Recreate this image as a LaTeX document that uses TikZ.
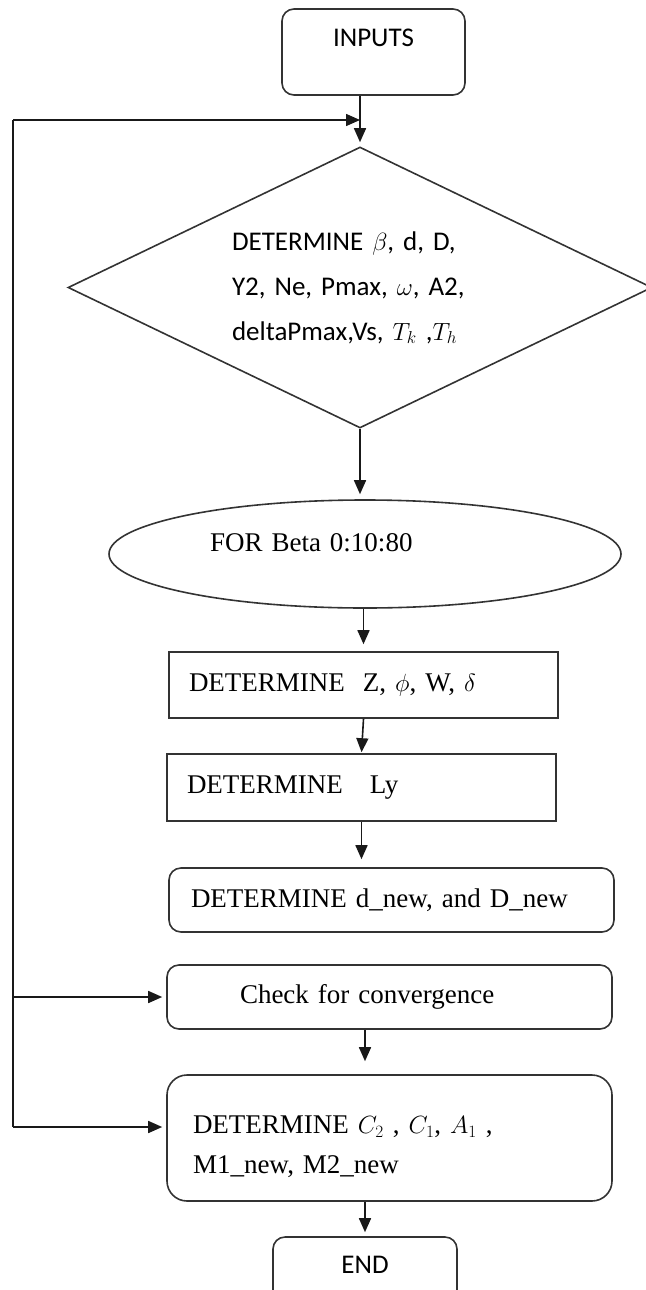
\documentclass[tikz,border=0pt]{standalone}
\usepackage{fontspec}
\setmainfont{Liberation Serif}
\newfontfamily\cfont{Carlito}
\usetikzlibrary{arrows.meta,positioning,shapes.geometric,calc}
\tikzset{
  blk/.style={draw=black!80, line width=1.6pt, inner ysep=0pt, font=\fontsize{27}{40}\selectfont},
  rbox/.style={blk, rounded corners=12pt},
  arr/.style={draw=black!90, line width=1.6pt, -{Triangle[length=14pt,width=12pt]}, shorten >=5pt},
  ln/.style={draw=black!90, line width=1.6pt}
}

\begin{document}
\begin{tikzpicture}[x=1pt, y=-1pt]
\useasboundingbox (0,0) rectangle (645,1290);
% boxes
\node[rbox, font=\cfont\fontsize{27}{32}\selectfont, minimum width=183pt, minimum height=86pt, text depth=28pt] (inp) at (373.5,52) {INPUTS};
\node[blk, diamond, aspect=2.08, inner sep=0pt, minimum width=584pt, minimum height=281pt, text width=256pt, align=left, font=\cfont\fontsize{27}{45}\selectfont] (dia) at (360,287.5)
  {DETERMINE $\beta$, d, D,\\ Y2, Ne, Pmax, $\omega$, A2,\\ deltaPmax,Vs, $T_k$ ,$T_h$};
\node[blk, ellipse, minimum width=512pt, minimum height=108pt, text width=310pt, align=left, text depth=22pt] (eli) at (365,554) {FOR Beta 0:10:80};
\node[blk, minimum width=389pt, minimum height=66pt, text width=349pt, inner xsep=20pt, align=left] (zpw) at (363.5,685) {DETERMINE\ \ Z, $\phi$, W, $\delta$};
\node[blk, minimum width=389pt, minimum height=67pt, text width=349pt, inner xsep=20pt, align=left] (ly) at (361.5,787.5) {DETERMINE\ \ \ Ly};
\node[rbox, minimum width=445pt, minimum height=64pt, text width=401pt, inner xsep=22pt, align=left] (dnw) at (391.5,900) {DETERMINE d\_new, and D\_new};
\node[rbox, minimum width=445pt, minimum height=64pt, text width=299pt, inner xsep=73pt, align=left] (cvg) at (389.5,997) {Check for\ convergence};
\node[rbox, rounded corners=20pt, minimum width=445pt, minimum height=126pt, text width=393pt, inner xsep=26pt, align=left, text depth=26pt] (cmn) at (389.5,1138)
  {DETERMINE $C_2$ , $C_1$, $A_1$ ,\\ M1\_new, M2\_new};
\node[rbox, font=\cfont\fontsize{27}{32}\selectfont, minimum width=184pt, minimum height=90pt, text depth=34pt] (fin) at (365,1282) {END};

% main flow
\draw[arr, shorten >=4pt] (inp.south -| dia.north) -- (dia.north);
\draw[arr] (dia.south) -- (dia.south |- eli.north);
\draw[arr, shorten >=7pt] (eli.south -| zpw.north) -- (zpw.north);
\draw[arr, shorten >=1pt] (zpw.south) -- (ly.north);
\draw[arr, shorten >=8pt] (ly.south) -- (ly.south |- dnw.north);
\draw[arr, shorten >=13pt] (cvg.south -| fin.north) -- (cmn.north -| fin.north);
\draw[arr, shorten >=4pt] (cmn.south -| fin.north) -- (fin.north);

% loop back
\coordinate (lt) at (13,120);
\coordinate (lb) at (13,1127);
\draw[ln] (lt) -- (lb);
\draw[arr, shorten >=0pt] (lt) -- (lt -| dia.north);
\draw[arr, shorten >=4pt] (lt |- cvg.west) -- (cvg.west);
\draw[arr, shorten >=4pt] (lb) -- (lb -| cmn.west);
\end{tikzpicture}
\end{document}
